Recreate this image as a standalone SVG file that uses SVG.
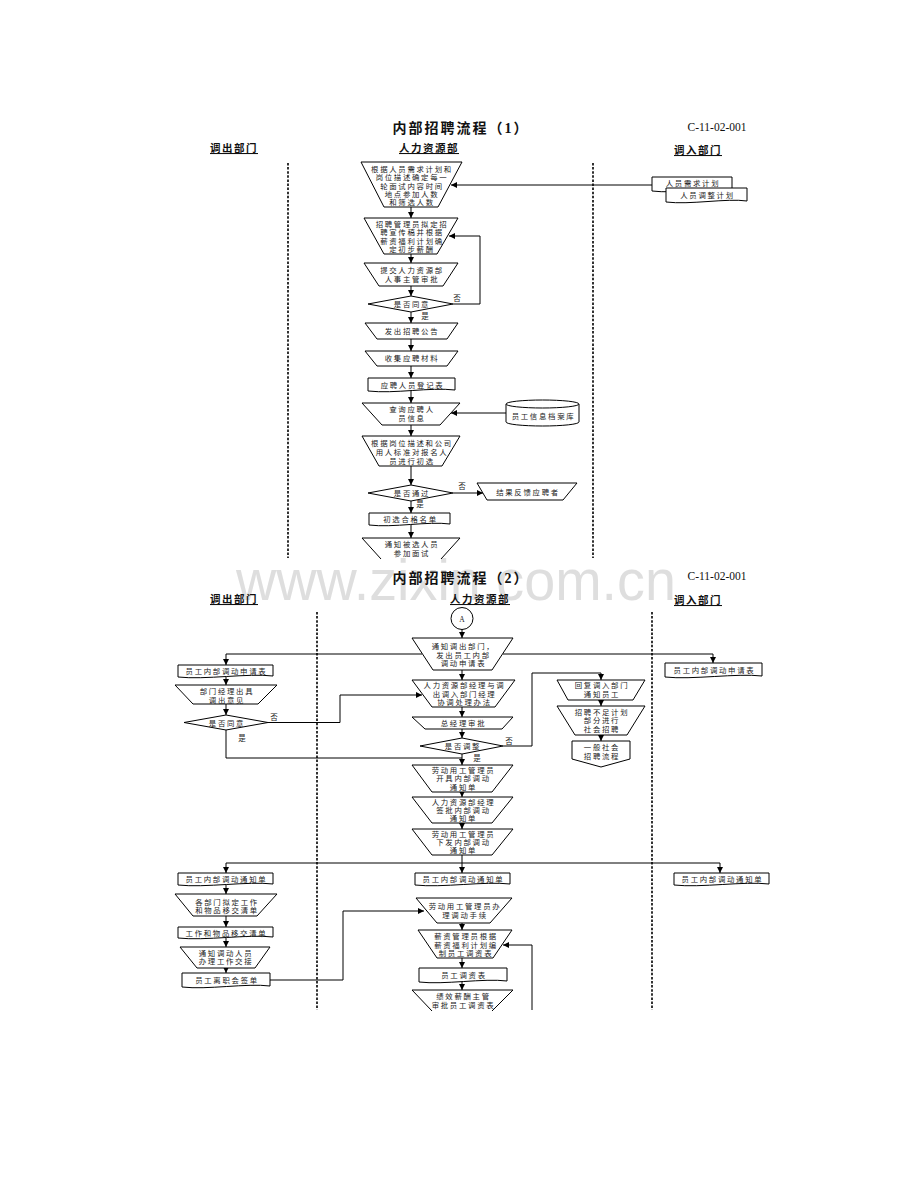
<svg xmlns="http://www.w3.org/2000/svg" width="920" height="1191" viewBox="0 0 920 1191">
<defs>
<marker id="ah" markerUnits="userSpaceOnUse" markerWidth="7" markerHeight="6" refX="6" refY="3" orient="auto">
<path d="M0,0 L6,3 L0,6 z" fill="#000"/>
</marker>
<style>
.s{fill:#fff;stroke:#000;stroke-width:1}
.c{fill:none;stroke:#000;stroke-width:1}
.a{fill:none;stroke:#000;stroke-width:1;marker-end:url(#ah)}
.dl{fill:none;stroke:#000;stroke-width:1.6;stroke-dasharray:2.5,1.6}
.t{font-family:"Liberation Serif","Noto Sans CJK SC",serif;font-size:7.4px;letter-spacing:1.7px;text-anchor:middle;fill:#222}
.y{font-family:"Liberation Serif","Noto Sans CJK SC",serif;font-size:7.5px;text-anchor:middle;fill:#222}
.h{font-family:"Liberation Serif","Noto Sans CJK SC",serif;font-size:10.5px;font-weight:bold;letter-spacing:1.5px;text-anchor:middle;text-decoration:underline;fill:#111}
.ti{font-family:"Liberation Serif","Noto Sans CJK SC",serif;font-size:14px;font-weight:bold;letter-spacing:2px;text-anchor:middle;fill:#111}
.code{font-family:"Liberation Serif",serif;font-size:11.5px;text-anchor:middle;fill:#111}
</style>
</defs>
<rect width="920" height="1191" fill="#fff"/>
<text x="456" y="600" font-family="Liberation Sans,sans-serif" font-size="58" fill="#d0d0d0" fill-opacity="0.7" textLength="440" lengthAdjust="spacingAndGlyphs" text-anchor="middle">www.zixin.com.cn</text>

<!-- Part 1 headers -->
<g id="header1">
<text class="ti" x="461" y="133">内部招聘流程（1）</text>
<text class="code" x="717" y="131">C-11-02-001</text>
<text class="h" x="234" y="152">调出部门</text>
<text class="h" x="429" y="152">人力资源部</text>
<text class="h" x="698" y="154">调入部门</text>
</g>
<g id="lanes1">
<line class="dl" x1="288" y1="163" x2="288" y2="558"/>
<line class="dl" x1="593" y1="163" x2="593" y2="558"/>
</g>

<g id="connectors1">
<path class="a" d="M411,207 V218"/>
<path class="a" d="M411,254 V263"/>
<path class="a" d="M411,286 V296"/>
<path class="a" d="M453,304 H480 V236 H449"/>
<path class="a" d="M411,312 V323"/>
<path class="a" d="M411,339 V351"/>
<path class="a" d="M411,366 V378"/>
<path class="a" d="M411,391 V403"/>
<path class="a" d="M506,413 H451"/>
<path class="a" d="M411,425 V436"/>
<path class="a" d="M411,466 V485"/>
<path class="a" d="M453,493 H483"/>
<path class="a" d="M411,501 V513"/>
<path class="a" d="M411,525 V538"/>
<path class="a" d="M652,185 H451"/>
<text class="y" x="457" y="301">否</text>
<text class="y" x="425" y="319">是</text>
<text class="y" x="462" y="489">否</text>
<text class="y" x="420" y="507">是</text>
</g>

<g id="n1"><polygon class="s" points="361,162 462,162 438,207 384,207"/>
<text class="t" x="412" y="171.5">根据人员需求计划和</text><text class="t" x="412" y="180">岗位描述确定每一</text><text class="t" x="412" y="188.5">轮面试内容时间</text><text class="t" x="412" y="197">地点参加人数</text><text class="t" x="412" y="205">和筛选人数</text></g>
<g id="n2"><polygon class="s" points="364,218 458,218 437,254 384,254"/>
<text class="t" x="412" y="226.5">招聘管理员拟定招</text><text class="t" x="412" y="235.3">聘宣传稿并根据</text><text class="t" x="412" y="244">薪资福利计划确</text><text class="t" x="412" y="252.3">定初步薪酬</text></g>
<g id="n3"><polygon class="s" points="364,263 458,263 443,286 379,286"/>
<text class="t" x="412" y="273">提交人力资源部</text><text class="t" x="412" y="282">人事主管审批</text></g>
<g id="d1"><polygon class="s" points="368,304 411,296 453,304 411,312"/>
<text class="t" x="412" y="307">是否同意</text></g>
<g id="n5"><polygon class="s" points="365,323 458,323 447,339 377,339"/>
<text class="t" x="412" y="333.5">发出招聘公告</text></g>
<g id="n6"><polygon class="s" points="365,351 458,351 447,366 377,366"/>
<text class="t" x="412" y="361">收集应聘材料</text></g>
<g id="n7"><path class="s" d="M368,378 H455 V390 C430,387 395,394 368,391 Z"/>
<text class="t" x="412.5" y="387.5">应聘人员登记表</text></g>
<g id="n8"><polygon class="s" points="362,403 460,403 440,425 382,425"/>
<text class="t" x="412" y="411.5">查询应聘人</text><text class="t" x="412" y="420.5">员信息</text></g>
<g id="db"><path class="s" d="M506,404 V422 A36.5,4 0 0 0 579,422 V404"/><ellipse class="s" cx="542.5" cy="404" rx="36.5" ry="4"/>
<text class="t" x="543.5" y="419">员工信息档案库</text></g>
<g id="n9"><polygon class="s" points="362,436 460,436 442,466 379,466"/>
<text class="t" x="412" y="445.5">根据岗位描述和公司</text><text class="t" x="412" y="454.5">用人标准对报名人</text><text class="t" x="412" y="463.5">员进行初选</text></g>
<g id="d2"><polygon class="s" points="368,493 411,485 453,493 411,501"/>
<text class="t" x="412" y="496">是否通过</text></g>
<g id="n11"><polygon class="s" points="477,483 577,483 563,500 487,500"/>
<text class="t" x="528" y="494.5">结果反馈应聘者</text></g>
<g id="n12"><path class="s" d="M369,513 H450 V524 C428,521 393,528 369,525 Z"/>
<text class="t" x="410.5" y="522">初选合格名单</text></g>
<g id="n13"><path class="c" d="M381,559 L362,538 H460 L441,559"/>
<text class="t" x="412" y="547">通知被选人员</text><text class="t" x="412" y="556">参加面试</text></g>
<g id="in1"><path class="s" d="M652,177 H732 V190 C712,187 675,194 652,191 Z"/>
<text class="t" x="693" y="186">人员需求计划</text></g>
<g id="in2"><path class="s" d="M666,188 H747 V201 C727,198 690,205 666,202 Z"/>
<text class="t" x="707.5" y="198">人员调整计划</text></g>

<!-- Part 2 -->
<g id="header2">
<text class="ti" x="461" y="583">内部招聘流程（2）</text>
<text class="code" x="717" y="580">C-11-02-001</text>
<text class="h" x="234" y="603">调出部门</text>
<text class="h" x="480" y="603">人力资源部</text>
<text class="h" x="698" y="604">调入部门</text>
</g>
<g id="lanes2">
<line class="dl" x1="317" y1="612" x2="317" y2="1010"/>
<line class="dl" x1="652" y1="612" x2="652" y2="1010"/>
</g>

<g id="connectors2">
<path class="a" d="M462,629 V638"/>
<path class="c" d="M226,654 H422"/>
<path class="c" d="M503,654 H713"/>
<path class="a" d="M226,654 V665"/>
<path class="a" d="M713,654 V663"/>
<path class="a" d="M226,677 V685"/>
<path class="a" d="M226,704 V715"/>
<path class="a" d="M268,722.5 H340 V695 H422"/>
<path class="c" d="M226,730 V758 H462"/>
<path class="a" d="M462,670 V680"/>
<path class="a" d="M462,707 V717"/>
<path class="a" d="M462,729 V738"/>
<path class="a" d="M503,746 H532 V673 H601 V680"/>
<path class="a" d="M601,700 V706"/>
<path class="a" d="M601,735 V741"/>
<path class="a" d="M462,754 V765"/>
<path class="a" d="M462,792 V797"/>
<path class="a" d="M462,823 V829"/>
<path class="c" d="M462,855 V863" stroke-width="1.5"/>
<path class="c" d="M226,863 H720"/>
<path class="a" d="M226,863 V873"/>
<path class="a" d="M462,863 V873"/>
<path class="a" d="M720,863 V873"/>
<path class="a" d="M226,885 V894"/>
<path class="a" d="M226,916 V927"/>
<path class="a" d="M226,938 V947"/>
<path class="a" d="M226,968 V973"/>
<path class="a" d="M270,980 H343 V911 H424"/>
<path class="a" d="M462,923 V930"/>
<path class="a" d="M462,958 V968"/>
<path class="a" d="M462,982 V990"/>
<path class="a" d="M532,1010 V945 H503"/>
<text class="y" x="274" y="720">否</text>
<text class="y" x="242" y="741">是</text>
<text class="y" x="509" y="744">否</text>
<text class="y" x="477" y="761">是</text>
</g>

<g id="pA"><circle class="s" cx="462" cy="618.5" r="11"/><text class="y" x="462" y="621.5" font-size="7">A</text></g>
<g id="p1"><polygon class="s" points="412,638 513,638 492,670 433,670"/>
<text class="t" x="463.5" y="648.5">通知调出部门，</text><text class="t" x="463.5" y="657.5">发出员工内部</text><text class="t" x="463.5" y="666">调动申请表</text></g>
<g id="l1"><path class="s" d="M178,665 H273 V676 C248,673 205,680 178,677 Z"/>
<text class="t" x="226.5" y="673.5">员工内部调动申请表</text></g>
<g id="r1"><path class="s" d="M665,663 H762 V676 C737,673 692,680 665,677 Z"/>
<text class="t" x="714.5" y="672.5">员工内部调动申请表</text></g>
<g id="l2"><polygon class="s" points="175,685 277,685 258,704 193,704"/>
<text class="t" x="227" y="694">部门经理出具</text><text class="t" x="227" y="702.5">调出意见</text></g>
<g id="ld"><polygon class="s" points="184,722.5 226,715 268,722.5 226,730"/>
<text class="t" x="227" y="725.5">是否同意</text></g>
<g id="p2"><polygon class="s" points="412,680 515,680 495,707 432,707"/>
<text class="t" x="464.5" y="688">人力资源部经理与调</text><text class="t" x="464.5" y="696.5">出调入部门经理</text><text class="t" x="464.5" y="705">协调处理办法</text></g>
<g id="p3"><polygon class="s" points="412,717 513,717 502,729 425,729"/>
<text class="t" x="463.5" y="726">总经理审批</text></g>
<g id="pd"><polygon class="s" points="420,746 462,738 503,746 462,754"/>
<text class="t" x="463" y="749">是否调整</text></g>
<g id="r2"><polygon class="s" points="557,680 645,680 633,700 568,700"/>
<text class="t" x="602" y="688">回复调入部门</text><text class="t" x="602" y="696.5">通知员工</text></g>
<g id="r3"><polygon class="s" points="557,706 645,706 627,735 575,735"/>
<text class="t" x="602" y="714.5">招聘不足计划</text><text class="t" x="602" y="723">部分进行</text><text class="t" x="602" y="731.5">社会招聘</text></g>
<g id="r4"><polygon class="s" points="572,741 630,741 630,759 601,767 572,759"/>
<text class="t" x="602" y="750">一般社会</text><text class="t" x="602" y="758.5">招聘流程</text></g>
<g id="p4"><polygon class="s" points="412,765 513,765 492,792 432,792"/>
<text class="t" x="463.5" y="772.5">劳动用工管理员</text><text class="t" x="463.5" y="781">开具内部调动</text><text class="t" x="463.5" y="789.5">通知单</text></g>
<g id="p5"><polygon class="s" points="412,797 513,797 492,823 432,823"/>
<text class="t" x="463.5" y="804.5">人力资源部经理</text><text class="t" x="463.5" y="813">签批内部调动</text><text class="t" x="463.5" y="821">通知单</text></g>
<g id="p6"><polygon class="s" points="412,829 513,829 492,855 432,855"/>
<text class="t" x="463.5" y="836.5">劳动用工管理员</text><text class="t" x="463.5" y="845">下发内部调动</text><text class="t" x="463.5" y="853">通知单</text></g>
<g id="l3"><path class="s" d="M178,873 H273 V884 C248,881 205,888 178,885 Z"/>
<text class="t" x="226.5" y="882">员工内部调动通知单</text></g>
<g id="c3"><path class="s" d="M415,873 H510 V884 C485,881 442,888 415,885 Z"/>
<text class="t" x="463.5" y="882">员工内部调动通知单</text></g>
<g id="r5"><path class="s" d="M674,873 H769 V884 C744,881 701,888 674,885 Z"/>
<text class="t" x="722.5" y="882">员工内部调动通知单</text></g>
<g id="l4"><polygon class="s" points="175,894 277,894 257,916 193,916"/>
<text class="t" x="227" y="904.5">各部门拟定工作</text><text class="t" x="227" y="913">和物品移交清单</text></g>
<g id="l5"><path class="s" d="M178,927 H273 V937 C248,934 205,941 178,938 Z"/>
<text class="t" x="226.5" y="935.5">工作和物品移交清单</text></g>
<g id="l6"><polygon class="s" points="180,947 270,947 255,968 197,968"/>
<text class="t" x="226" y="955.5">通知调动人员</text><text class="t" x="226" y="964">办理工作交接</text></g>
<g id="l7"><path class="s" d="M182,973 H270 V986 C247,983 207,990 182,987 Z"/>
<text class="t" x="227" y="983">员工离职会签单</text></g>
<g id="p7"><polygon class="s" points="416,898 512,898 490,923 437,923"/>
<text class="t" x="465" y="908.5">劳动用工管理员办</text><text class="t" x="465" y="917.5">理调动手续</text></g>
<g id="p8"><polygon class="s" points="418,930 512,930 493,958 437,958"/>
<text class="t" x="466" y="939">薪资管理员根据</text><text class="t" x="466" y="947.5">薪资福利计划编</text><text class="t" x="466" y="956">制员工调资表</text></g>
<g id="p9"><path class="s" d="M419,968 H507 V981 C484,978 444,985 419,982 Z"/>
<text class="t" x="464" y="978">员工调资表</text></g>
<g id="p10"><path class="c" d="M432,1011 L412,990 H513 L492,1011"/>
<text class="t" x="463.5" y="999">绩效薪酬主管</text><text class="t" x="463.5" y="1008">审批员工调资表</text></g>
</svg>
